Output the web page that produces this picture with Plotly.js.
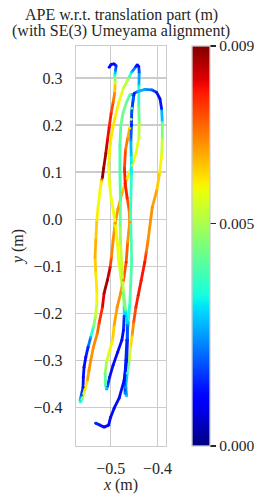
<!DOCTYPE html>
<html>
<head>
<meta charset="utf-8">
<script src="https://cdn.plot.ly/plotly-3.0.1.min.js"></script>
<style>html,body{margin:0;padding:0;background:#fff;}#chart{width:268px;height:502px;}</style>
</head>
<body>
<div id="chart"></div>
<script>
// Trajectory x (m)
const trajX = [
-0.5036,-0.4994,-0.4929,-0.4886,-0.4900,-0.4914,-0.4908,-0.4918,-0.4951,-0.4994,
-0.5036,-0.5073,-0.5107,-0.5154,-0.5180,-0.5202,-0.5230,-0.5273,-0.5300,-0.5322,
-0.5337,-0.5322,-0.5300,-0.5300,-0.5330,-0.5373,-0.5429,-0.5487,-0.5536,-0.5573,
-0.5588,-0.5594,-0.5631,-0.5659,-0.5648,-0.5616,-0.5573,-0.5502,-0.5466,-0.5429,
-0.5373,-0.5288,-0.5251,-0.5180,-0.5144,-0.5073,-0.5015,-0.4987,-0.4951,
-0.4908,-0.4843,-0.4758,-0.4650,-0.4543,-0.4457,-0.4399,-0.4393,-0.4403,-0.4399,
-0.4393,-0.4403,-0.4436,-0.4468,
-0.4558,-0.4629,-0.4736,-0.4829,-0.4914,-0.4987,-0.5026,-0.5047,-0.5036,-0.4994,
-0.4940,-0.4886,-0.4854,-0.4833,-0.4790,-0.4747,-0.4715,-0.4715,-0.4730,-0.4764,
-0.4854,-0.4951,-0.5026,-0.5069,-0.5090,
-0.5112,-0.5122,-0.5090,-0.5036,-0.4961,-0.4929,-0.4865,-0.4790,-0.4730,-0.4672,
-0.4640,-0.4597,-0.4607,-0.4650,-0.4693,-0.4708,-0.4687,-0.4640,-0.4597,-0.4564,
-0.4547,-0.4521,-0.4500,
-0.4414,-0.4270,-0.4129,-0.4021,-0.3948,-0.3914,-0.3899,-0.3899,-0.3914,-0.3953,
-0.4017,-0.4114,-0.4204,-0.4242,-0.4275,-0.4350,-0.4414,-0.4464,-0.4511,-0.4543,
-0.4579,-0.4607,-0.4650,-0.4679,-0.4661,
-0.4693,-0.4704,-0.4679,-0.4657,-0.4629,-0.4597,-0.4575,-0.4554,-0.4564,-0.4579,
-0.4558,-0.4564,-0.4571,-0.4558,-0.4554,-0.4511,
-0.4586,-0.4665,-0.4736,-0.4786,-0.4807,-0.4807,-0.4794,-0.4800,-0.4790,-0.4764,
-0.4736,
-0.4683,-0.4650,-0.4644,-0.4661,-0.4715,-0.4822,-0.4929,-0.5004,-0.5047,-0.5144,
-0.5230,-0.5326
];
// Trajectory y (m)
const trajY = [
0.3226,0.3289,0.3300,0.3258,0.3162,0.3056,0.2886,0.2674,0.2482,0.2249,
0.1952,0.1675,0.1399,0.1081,0.0890,0.0805,0.0614,0.0253,-0.0023,-0.0448,
-0.0809,-0.1149,-0.1510,-0.1786,-0.2083,-0.2296,-0.2508,-0.2720,-0.2933,-0.3145,
-0.3357,-0.3570,-0.3739,-0.3845,-0.3888,-0.3824,-0.3697,-0.3421,-0.3208,-0.2996,
-0.2720,-0.2423,-0.2211,-0.1871,-0.1573,-0.1297,-0.1021,-0.0809,-0.0448,
-0.0087,0.0231,0.0571,0.0869,0.1144,0.1421,0.1718,0.2058,0.2419,0.2844,
0.3120,0.3247,0.3279,0.3237,
0.3120,0.2982,0.2769,0.2482,0.2143,0.1781,0.1463,0.1144,0.0826,0.0444,
0.0147,-0.0236,-0.0554,-0.0873,-0.1191,-0.1510,-0.1828,-0.2062,-0.2359,-0.2571,
-0.2826,-0.3102,-0.3357,-0.3548,-0.3612,
-0.3527,-0.3272,-0.3039,-0.2826,-0.2571,-0.2253,-0.1871,-0.1573,-0.1297,-0.0915,
-0.0490,-0.0066,0.0189,0.0444,0.0762,0.1081,0.1463,0.1718,0.1930,0.2121,
0.2355,0.2568,0.2674,
0.2716,0.2759,0.2748,0.2695,0.2557,0.2344,0.2058,0.1718,0.1357,0.0996,
0.0614,0.0253,-0.0448,-0.0703,-0.0915,-0.1297,-0.1616,-0.1871,-0.2189,-0.2465,
-0.2741,-0.2996,-0.3272,-0.3570,-0.3760,
-0.3697,-0.3421,-0.2996,-0.2571,-0.2189,-0.1828,-0.1404,-0.0873,-0.0448,0.0189,
0.0932,0.1357,0.1675,0.1994,0.2270,0.2631,
0.2652,0.2482,0.2270,0.1994,0.1569,0.0996,0.0401,-0.0129,-0.0554,-0.0979,
-0.1510,
-0.1934,-0.2253,-0.2571,-0.2996,-0.3421,-0.3803,-0.4016,-0.4207,-0.4377,-0.4419,
-0.4377,-0.4334
];
// APE (m) at each pose
const apeErr = [
0.0012,0.0012,0.0012,0.0015,0.0022,0.0035,0.0058,0.0068,0.0072,0.0078,
0.0080,0.0082,0.0086,0.0088,0.0088,0.0060,0.0058,0.0058,0.0060,0.0065,
0.0065,0.0060,0.0060,0.0057,0.0050,0.0042,0.0028,0.0015,0.0012,0.0012,
0.0012,0.0013,0.0018,0.0030,0.0035,0.0045,0.0055,0.0065,0.0068,0.0068,
0.0068,0.0070,0.0075,0.0080,0.0085,0.0088,0.0080,0.0070,0.0068,
0.0068,0.0068,0.0065,0.0060,0.0058,0.0057,0.0056,0.0048,0.0040,0.0032,
0.0020,0.0013,0.0012,0.0015,
0.0030,0.0048,0.0055,0.0058,0.0060,0.0060,0.0060,0.0058,0.0057,0.0057,
0.0058,0.0058,0.0058,0.0057,0.0055,0.0050,0.0045,0.0018,0.0012,0.0012,
0.0012,0.0012,0.0013,0.0018,0.0028,
0.0038,0.0045,0.0052,0.0057,0.0060,0.0065,0.0068,0.0068,0.0070,0.0078,
0.0068,0.0068,0.0070,0.0078,0.0080,0.0078,0.0072,0.0068,0.0062,0.0055,
0.0040,0.0020,0.0013,
0.0028,0.0025,0.0020,0.0013,0.0011,0.0015,0.0040,0.0050,0.0057,0.0060,
0.0065,0.0068,0.0068,0.0072,0.0080,0.0080,0.0080,0.0078,0.0072,0.0065,
0.0057,0.0050,0.0035,0.0025,0.0030,
0.0022,0.0015,0.0015,0.0015,0.0030,0.0038,0.0040,0.0040,0.0040,0.0038,
0.0035,0.0030,0.0025,0.0013,0.0020,0.0013,
0.0040,0.0042,0.0045,0.0042,0.0040,0.0040,0.0040,0.0045,0.0052,0.0055,
0.0050,
0.0040,0.0022,0.0015,0.0013,0.0012,0.0012,0.0012,0.0012,0.0012,0.0012,
0.0013,0.0015
];
const errMin = 0.0, errMax = 0.009;
const cbTickVals = [0.0, 0.005, 0.009];
const xTickVals = [-0.5, -0.4];
const yTickVals = [-0.4, -0.3, -0.2, -0.1, 0.0, 0.1, 0.2, 0.3];
const titleLines = ['APE w.r.t. translation part (m)', '(with SE(3) Umeyama alignment)'];

// matplotlib "jet"
const jetR = [[0,0],[0.35,0],[0.66,1],[0.89,1],[1,0.5]];
const jetG = [[0,0],[0.125,0],[0.375,1],[0.64,1],[0.91,0],[1,0]];
const jetB = [[0,0.5],[0.11,1],[0.34,1],[0.65,0],[1,0]];
function lin(tab, t){
  for (let i=1;i<tab.length;i++){
    if (t <= tab[i][0]) {
      const a=tab[i-1], b=tab[i];
      return a[1] + (b[1]-a[1])*(t-a[0])/(b[0]-a[0]);
    }
  }
  return tab[tab.length-1][1];
}
function jet(t){
  t = Math.max(0, Math.min(1, t));
  return 'rgb(' + Math.round(255*lin(jetR,t)) + ',' + Math.round(255*lin(jetG,t)) + ',' + Math.round(255*lin(jetB,t)) + ')';
}
const jetScale = [];
for (let k=0;k<=60;k++){ jetScale.push([k/60, jet(k/60)]); }

const FONT = 'Liberation Serif, Times New Roman, serif';
const TXT = '#262626';

const traces = [];
for (let i=0;i<trajX.length-1;i++){
  const e = (apeErr[i]+apeErr[i+1])/2;
  traces.push({
    type:'scatter', mode:'lines',
    x:[trajX[i], trajX[i+1]], y:[trajY[i], trajY[i+1]],
    line:{color: jet((e-errMin)/(errMax-errMin)), width:2.8},
    hoverinfo:'skip', showlegend:false
  });
}
traces.push({
  type:'scatter', mode:'markers',
  x: trajX, y: trajY,
  marker:{
    size:2.8, color: apeErr, colorscale: jetScale, cmin: errMin, cmax: errMax,
    line:{width:0},
    showscale:true,
    colorbar:{
      x:1.289, xanchor:'left', xpad:0, ypad:0,
      y:0.5, yanchor:'middle', len:400, lenmode:'pixels',
      thickness:18, outlinewidth:1.3, outlinecolor:'#cccccc',
      tickvals: cbTickVals, tickformat:'.3f',
      ticks:'outside', ticklen:6, tickwidth:1.3, tickcolor:TXT,
      tickfont:{family:FONT, size:15.5, color:TXT}
    }
  },
  hoverinfo:'skip', showlegend:false
});

const axisCommon = {
  showgrid:true, gridcolor:'#cccccc', gridwidth:1.3,
  zeroline:false, showline:true, linecolor:'#cccccc', linewidth:1.3, mirror:true,
  ticks:'', tickformat:'.1f',
  tickfont:{family:FONT, size:16, color:TXT}
};

const layout = {
  width:268, height:502,
  margin:{l:76, r:102, t:46, b:56, pad:0},
  paper_bgcolor:'#ffffff', plot_bgcolor:'#ffffff',
  font:{family:FONT, size:16, color:TXT},
  xaxis: Object.assign({}, axisCommon, {
    range:[-0.5745, -0.382], tickvals:xTickVals, ticklabelstandoff:7,
    title:{text:'<i>x</i> (m)', font:{family:FONT, size:16, color:TXT}, standoff:3}
  }),
  yaxis: Object.assign({}, axisCommon, {
    range:[-0.482, 0.368], tickvals:yTickVals, ticklabelstandoff:9,
    title:{text:'<i>y</i> (m)', font:{family:FONT, size:16, color:TXT}, standoff:6}
  }),
  annotations:[
    {text:titleLines[0], xref:'paper', yref:'paper', x:0.5, y:1.0768, xanchor:'center', yanchor:'middle', showarrow:false, font:{family:FONT, size:16, color:TXT}},
    {text:titleLines[1], xref:'paper', yref:'paper', x:0.5, y:1.0385, xanchor:'center', yanchor:'middle', showarrow:false, font:{family:FONT, size:16, color:TXT}}
  ]
};

Plotly.newPlot('chart', traces, layout, {staticPlot:true, displayModeBar:false});
</script>
</body>
</html>
